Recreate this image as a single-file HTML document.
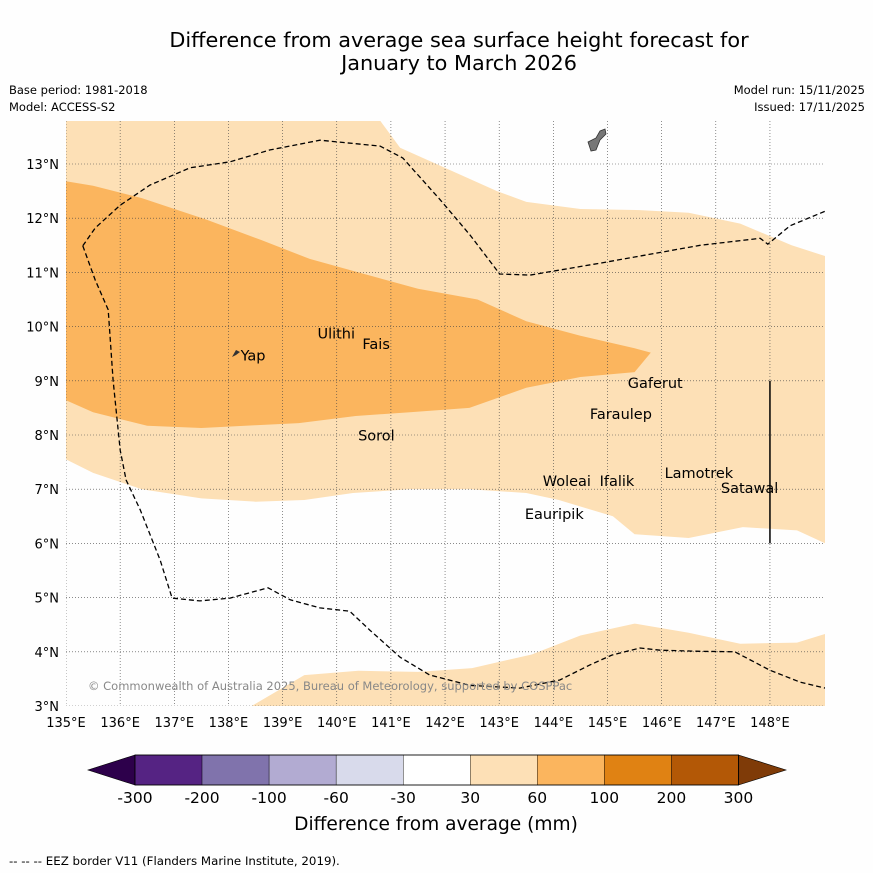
<!DOCTYPE html>
<html><head><meta charset="utf-8"><style>
body{margin:0;background:#fff;font-family:"DejaVu Sans","Liberation Sans",sans-serif}
svg{display:block;font-family:"DejaVu Sans","Liberation Sans",sans-serif}
</style></head><body>
<svg id="chart" width="873" height="873" xmlns="http://www.w3.org/2000/svg">
<rect width="873" height="873" fill="#fefefe"/>
<text x="459" y="47" font-size="20.8" text-anchor="middle">Difference from average sea surface height forecast for</text>
<text x="459" y="70" font-size="20.8" text-anchor="middle">January to March 2026</text>
<text x="9" y="94" font-size="11.5">Base period: 1981-2018</text>
<text x="9" y="111" font-size="11.5">Model: ACCESS-S2</text>
<text x="865" y="94" font-size="11.5" text-anchor="end">Model run: 15/11/2025</text>
<text x="865" y="111" font-size="11.5" text-anchor="end">Issued: 17/11/2025</text>
<g id="map"></g>
<g id="cbar"></g>
<text x="436" y="830" font-size="18.6" text-anchor="middle">Difference from average (mm)</text>
<text x="9" y="865" font-size="11.8">--  --  -- EEZ border V11 (Flanders Marine Institute, 2019).</text>
</svg>
<script>
const NS="http://www.w3.org/2000/svg";
const lonTicks=[135,136,137,138,139,140,141,142,143,144,145,146,147,148];
const latTicks=[3,4,5,6,7,8,9,10,11,12,13];
const lightLon=[135,140.8,141.17,142.96,143.5,144.5,145.6,146.5,147.45,148.4,149.02,149.02,148.5,147.5,146.5,145.5,145.1,144.1,143.5,142.45,141.35,140.3,139.4,138.5,137.5,136.4,135.5,135];
const lightLat=[13.8,13.8,13.3,12.5,12.3,12.17,12.15,12.1,11.9,11.5,11.3,6.0,6.24,6.3,6.1,6.17,6.5,6.8,6.93,7.0,7.0,6.93,6.8,6.77,6.83,7.0,7.3,7.55];
const southLon=[138.43,139.4,140.4,141.5,142.5,143.6,144.5,145.5,146.5,147.45,148.5,149.02,149.02];
const southLat=[3.0,3.57,3.65,3.63,3.7,3.95,4.3,4.52,4.35,4.15,4.17,4.33,3.0];
const darkLon=[135,135.5,136.4,137.6,138.6,139.5,140.4,141.5,142.6,143.5,144.5,145.5,145.8,145.5,144.5,143.5,142.45,141.35,140.35,139.3,138.5,137.5,136.5,135.5,135];
const darkLat=[12.68,12.6,12.37,11.97,11.6,11.25,11.0,10.7,10.5,10.1,9.83,9.6,9.52,9.16,9.07,8.87,8.5,8.42,8.35,8.22,8.18,8.13,8.17,8.42,8.64];
const eezNLon=[135.31,135.54,136.0,136.55,137.29,138.03,138.77,139.69,140.8,141.22,141.91,142.46,143.01,143.57,144.86,146.71,147.82,147.96,148.37,149.02];
const eezNLat=[11.49,11.82,12.24,12.61,12.93,13.04,13.26,13.44,13.33,13.11,12.34,11.69,10.97,10.95,11.17,11.5,11.63,11.52,11.86,12.13];
const eezSLon=[135.31,135.54,135.78,135.87,136.0,136.11,136.37,136.74,136.96,137.47,138.03,138.73,139.14,139.69,140.24,140.61,141.17,141.72,142.46,143.38,144.12,144.68,145.08,145.6,145.97,146.71,147.35,148.0,148.56,149.02];
const eezSLat=[11.49,10.86,10.31,9.01,7.72,7.17,6.62,5.69,4.99,4.94,4.99,5.18,4.96,4.81,4.75,4.4,3.9,3.57,3.38,3.33,3.48,3.76,3.94,4.07,4.03,4.01,4.0,3.66,3.44,3.33];
const placeNames=["Yap","Ulithi","Fais","Gaferut","Faraulep","Sorol","Woleai","Ifalik","Lamotrek","Satawal","Eauripik"];
const placeLon=[138.15,139.57,140.4,145.3,144.6,140.32,143.73,144.78,145.98,147.02,143.4];
const placeLat=[9.45,9.85,9.66,8.94,8.37,7.97,7.13,7.13,7.28,7.0,6.52];
const cbLabels=["-300","-200","-100","-60","-30","30","60","100","200","300"];
const cbColors=["#552383","#8073ac","#b2abd2","#d8daeb","#ffffff","#fde0b6","#fbb55e","#e08213","#b35806"];
const cbLow="#2d004b", cbHigh="#7f3b08";

const X=lon=>66+(lon-135)*54.15;
const Y=lat=>164+(13-lat)*54.2;
const map=document.getElementById('map');
function mk(tag,attrs,parent){const e=document.createElementNS(NS,tag);for(const k in attrs)e.setAttribute(k,attrs[k]);parent.appendChild(e);return e;}
const clip=mk('clipPath',{id:'mc'},map);mk('rect',{x:66,y:121,width:759,height:585},clip);
const g=mk('g',{'clip-path':'url(#mc)'},map);
function poly(lons,lats){return lons.map((l,i)=>X(l).toFixed(1)+','+Y(lats[i]).toFixed(1)).join(' ');}
let p=mk('polygon',{points:poly(lightLon,lightLat),fill:'#fde0b6'},g);

p=mk('polygon',{points:poly(southLon,southLat),fill:'#fde0b6'},g);

p=mk('polygon',{points:poly(darkLon,darkLat),fill:'#fbb55e'},g);

lonTicks.forEach(l=>{const ln=mk('line',{x1:X(l),x2:X(l),y1:121,y2:706,stroke:'#444','stroke-width':0.6,'stroke-dasharray':'1,2'},g);

const t=mk('text',{x:X(l),y:727,'font-size':13,'text-anchor':'middle'},map);t.textContent=l+'°E';
});
latTicks.forEach(l=>{const ln=mk('line',{x1:66,x2:825,y1:Y(l),y2:Y(l),stroke:'#444','stroke-width':0.6,'stroke-dasharray':'1,2'},g);

const t=mk('text',{x:59,y:Y(l)+5,'font-size':13,'text-anchor':'end'},map);t.textContent=l+'°N';
});
let e=mk('polyline',{points:poly(eezNLon,eezNLat),fill:'none',stroke:'#000','stroke-width':1.3,'stroke-dasharray':'5,3'},g);

e=mk('polyline',{points:poly(eezSLon,eezSLat),fill:'none',stroke:'#000','stroke-width':1.3,'stroke-dasharray':'5,3'},g);

e=mk('line',{x1:X(148),x2:X(148),y1:Y(9),y2:Y(6),stroke:'#000','stroke-width':1.5},g);

e=mk('path',{d:'M588,142 L596,138 L600,131 L605,129 L606,134 L600,140 L596,150 L591,151 Z',fill:'#777',stroke:'#333','stroke-width':0.8},g);

e=mk('path',{d:'M232,357 L236,350 L240,352 L236,355 Z',fill:'#333'},g);

placeNames.forEach((n,i)=>{const t=mk('text',{x:X(placeLon[i])+4,y:Y(placeLat[i])+4,'font-size':14.5},g);t.textContent=n;
});
e=mk('text',{x:88,y:690,'font-size':11.5,fill:'#888'},g);e.textContent='© Commonwealth of Australia 2025, Bureau of Meteorology, supported by COSPPac';


const cb=document.getElementById('cbar');
const cx0=135,cw=67.05,cy=755,ch=30;
e=mk('polygon',{points:`${cx0},${cy} ${cx0},${cy+ch} 88,${cy+ch/2}`,fill:cbLow,stroke:'#000','stroke-width':0.6},cb);

cbColors.forEach((c,i)=>{const r=mk('rect',{x:cx0+i*cw,y:cy,width:cw,height:ch,fill:c,stroke:'#000','stroke-width':0.4},cb);
});
const xe=cx0+cbColors.length*cw;
e=mk('polygon',{points:`${xe},${cy} ${xe},${cy+ch} 786,${cy+ch/2}`,fill:cbHigh,stroke:'#000','stroke-width':0.6},cb);

mk('rect',{x:cx0,y:cy,width:xe-cx0,height:ch,fill:'none',stroke:'#000','stroke-width':0.8},cb);
cbLabels.forEach((l,i)=>{const t=mk('text',{x:cx0+i*cw,y:803,'font-size':15.5,'text-anchor':'middle'},cb);t.textContent=l;
});
</script>
</body></html>
